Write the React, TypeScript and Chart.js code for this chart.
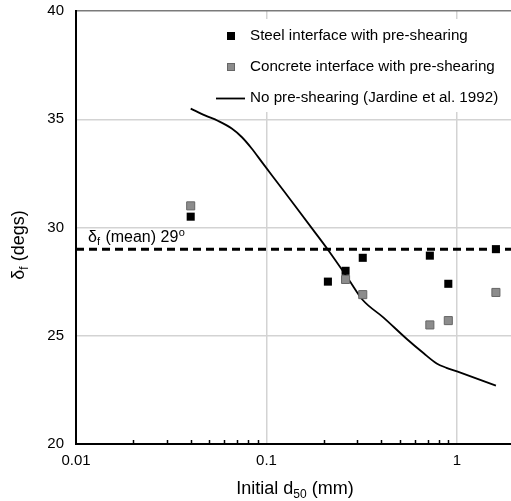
import React, { useEffect, useRef } from 'react';
import { Chart, registerables } from 'chart.js';
Chart.register(...registerables);

const steelX = [0.04, 0.21, 0.26, 0.32, 0.72, 0.9, 1.6];
const steelY = [30.5, 27.5, 28.0, 28.6, 28.7, 27.4, 29.0];
const concreteX = [0.04, 0.26, 0.32, 0.72, 0.9, 1.6];
const concreteY = [31.0, 27.6, 26.9, 25.5, 25.7, 27.0];
const jardineX = [0.04, 0.0475, 0.0558, 0.0657, 0.0741, 0.0836, 0.0944, 0.1086, 0.1382, 0.176, 0.211, 0.27, 0.32, 0.41, 0.545, 0.666, 0.782, 0.88, 1.0, 1.6];
const jardineY = [35.49, 35.18, 34.92, 34.57, 34.18, 33.65, 33.03, 32.32, 31.11, 29.88, 28.95, 27.6, 26.65, 25.85, 24.85, 24.2, 23.72, 23.52, 23.35, 22.7];
const meanValue = 29;
const xTickValues = [0.01, 0.1, 1];
const xMin = 0.01;
const xMax = 1.92;
const yMin = 20;
const yMax = 40;
const yStep = 5;
const seriesLabels = [
  'Steel interface with pre-shearing',
  'Concrete interface with pre-shearing',
  'No pre-shearing (Jardine et al. 1992)',
];

const FONT = "'Liberation Sans', Arial, sans-serif";

const drawPlugin = {
  id: 'customDraw',
  beforeDatasetsDraw(chart: any) {
    const ctx = chart.ctx;
    ctx.save();
    ctx.fillStyle = '#ffffff';
    ctx.fillRect(208, 19, 303, 93);
    ctx.restore();
  },
  afterDraw(chart: any) {
    const ctx = chart.ctx;
    const xs = chart.scales.x;
    const ys = chart.scales.y;
    const area = chart.chartArea;
    ctx.save();
    // minor ticks on x axis
    ctx.strokeStyle = '#000';
    ctx.lineWidth = 1.5;
    for (let d = -2; d <= 0; d++) {
      for (let m = 2; m <= 9; m++) {
        const v = m * Math.pow(10, d);
        if (v > xMax) continue;
        const px = Math.round(xs.getPixelForValue(v)) + 0.5;
        ctx.beginPath();
        ctx.moveTo(px, area.bottom);
        ctx.lineTo(px, area.bottom - 4);
        ctx.stroke();
      }
    }
    // legend
    ctx.font = `15.2px ${FONT}`;
    ctx.textBaseline = 'middle';
    ctx.textAlign = 'left';
    ctx.fillStyle = '#000';
    ctx.fillRect(227, 32, 8, 8);
    ctx.fillText(seriesLabels[0], 250, 36);
    ctx.fillStyle = '#8c8c8c';
    ctx.strokeStyle = '#666';
    ctx.lineWidth = 1;
    ctx.fillRect(227, 63, 8, 8);
    ctx.strokeRect(227.5, 63.5, 7, 7);
    ctx.fillStyle = '#000';
    ctx.fillText(seriesLabels[1], 250, 67);
    ctx.strokeStyle = '#000';
    ctx.lineWidth = 1.8;
    ctx.beginPath();
    ctx.moveTo(216, 98.5);
    ctx.lineTo(245, 98.5);
    ctx.stroke();
    ctx.fillText(seriesLabels[2], 250, 98);

    // mean label
    const my = ys.getPixelForValue(meanValue);
    ctx.font = `16px ${FONT}`;
    ctx.textBaseline = 'alphabetic';
    let x = 88;
    const base = my - 7;
    ctx.fillText('δ', x, base);
    x += ctx.measureText('δ').width;
    ctx.font = `11px ${FONT}`;
    ctx.fillText('f', x, base + 3);
    x += ctx.measureText('f').width + 1;
    ctx.font = `16px ${FONT}`;
    const t1 = ' (mean) 29';
    ctx.fillText(t1, x, base);
    x += ctx.measureText(t1).width;
    ctx.font = `11px ${FONT}`;
    ctx.fillText('o', x + 0.5, base - 6);

    // x axis title
    const p1 = 'Initial d';
    const p2 = '50';
    const p3 = ' (mm)';
    ctx.font = `18px ${FONT}`;
    const w1 = ctx.measureText(p1).width;
    const w3 = ctx.measureText(p3).width;
    ctx.font = `12px ${FONT}`;
    const w2 = ctx.measureText(p2).width;
    let tx = 295 - (w1 + w2 + w3) / 2;
    const ty = 494;
    ctx.font = `18px ${FONT}`;
    ctx.fillText(p1, tx, ty);
    tx += w1;
    ctx.font = `12px ${FONT}`;
    ctx.fillText(p2, tx, ty + 4);
    tx += w2;
    ctx.font = `18px ${FONT}`;
    ctx.fillText(p3, tx, ty);

    // y axis title
    ctx.translate(24, 245);
    ctx.rotate(-Math.PI / 2);
    ctx.font = `18px ${FONT}`;
    const q1 = 'δ';
    const q3 = ' (degs)';
    const wq1 = ctx.measureText(q1).width;
    const wq3 = ctx.measureText(q3).width;
    ctx.font = `12px ${FONT}`;
    const wq2 = ctx.measureText('f').width;
    let qx = -(wq1 + wq2 + wq3) / 2;
    ctx.font = `18px ${FONT}`;
    ctx.fillText(q1, qx, 0);
    qx += wq1;
    ctx.font = `12px ${FONT}`;
    ctx.fillText('f', qx, 4);
    qx += wq2;
    ctx.font = `18px ${FONT}`;
    ctx.fillText(q3, qx, 0);
    ctx.restore();
  },
};

export default function App() {
  const ref = useRef<HTMLCanvasElement | null>(null);
  useEffect(() => {
    document.body.style.margin = '0';
    const canvas = ref.current;
    if (!canvas) return;
    const chart = new Chart(canvas, {
      type: 'scatter',
      data: {
        datasets: [
          {
            label: seriesLabels[0],
            data: steelX.map((x, i) => ({ x, y: steelY[i] })),
            pointStyle: 'rect',
            pointRadius: 5.7,
            backgroundColor: '#000',
            borderColor: '#000',
            borderWidth: 0,
            order: 1,
          },
          {
            label: seriesLabels[1],
            data: concreteX.map((x, i) => ({ x, y: concreteY[i] })),
            pointStyle: 'rect',
            pointRadius: 5.7,
            backgroundColor: '#8c8c8c',
            borderColor: '#666',
            borderWidth: 1,
            order: 0,
          },
          {
            label: seriesLabels[2],
            type: 'line',
            data: jardineX.map((x, i) => ({ x, y: jardineY[i] })),
            borderColor: '#000',
            borderWidth: 1.8,
            pointRadius: 0,
            cubicInterpolationMode: 'monotone',
            fill: false,
            order: 2,
          },
          {
            label: 'mean',
            type: 'line',
            data: [
              { x: xMin, y: meanValue },
              { x: xMax, y: meanValue },
            ],
            borderColor: '#000',
            borderWidth: 3,
            borderDash: [8, 5],
            pointRadius: 0,
            fill: false,
            order: 3,
          },
        ],
      } as any,
      options: {
        responsive: false,
        animation: false,
        layout: { autoPadding: false, padding: { top: 11, right: 0, left: 0, bottom: 0 } },
        plugins: {
          legend: { display: false },
          tooltip: { enabled: false },
        },
        scales: {
          x: {
            type: 'logarithmic',
            min: xMin,
            max: xMax,
            afterBuildTicks: (scale: any) => {
              scale.ticks = xTickValues.map((v) => ({ value: v }));
            },
            afterFit: (scale: any) => {
              scale.height = 57;
              scale.paddingLeft = 0;
              scale.paddingRight = 0;
            },
            ticks: {
              callback: (v: any) => String(v),
              font: { family: FONT, size: 15 },
              color: '#000',
              padding: 8,
              maxRotation: 0,
              autoSkip: false,
            },
            grid: {
              color: '#d3d3d3',
              lineWidth: 1.5,
              drawTicks: false,
            },
            border: { color: '#000', width: 2 },
          },
          y: {
            min: yMin,
            max: yMax,
            afterFit: (scale: any) => {
              scale.width = 76;
              scale.paddingTop = 0;
              scale.paddingBottom = 0;
            },
            ticks: {
              stepSize: yStep,
              font: { family: FONT, size: 15 },
              color: '#000',
              padding: 12,
            },
            grid: {
              color: (c: any) => (c.tick && c.tick.value === yMax ? '#7a7a7a' : '#d3d3d3'),
              lineWidth: 1.5,
              drawTicks: false,
            },
            border: { color: '#000', width: 2 },
          },
        },
      } as any,
      plugins: [drawPlugin],
    });
    return () => chart.destroy();
  }, []);
  return (
    <div style={{ width: 511, height: 501 }}>
      <canvas ref={ref} width={511} height={501} style={{ display: 'block' }} />
    </div>
  );
}
